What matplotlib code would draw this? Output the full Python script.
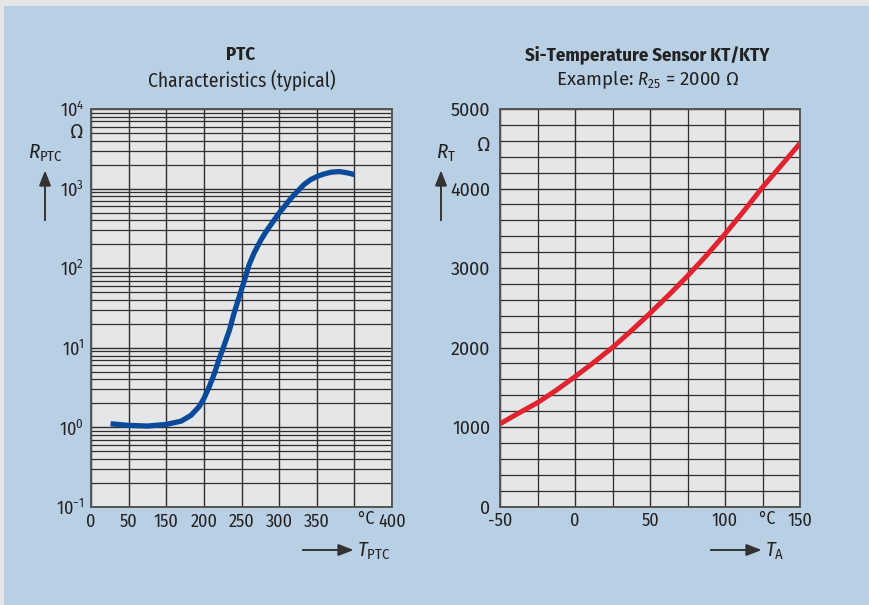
import matplotlib
matplotlib.use("Agg")
import matplotlib.pyplot as plt
from matplotlib.patches import Rectangle
from matplotlib.ticker import MultipleLocator, LogLocator, NullFormatter

# PTC characteristic (temperature in grid units of 50 °C per column, resistance in ohm)
ptc_temp = [26, 50, 75, 100, 120, 133, 144, 150, 157, 164, 170, 177, 184, 190,
            197, 204, 210, 217, 226, 232, 239, 250, 258, 266, 283, 292, 301, 310,
            319, 330, 341, 350]
ptc_res = [1.11, 1.06, 1.04, 1.09, 1.20, 1.42, 1.84, 2.30, 3.22, 4.75, 7.1, 10.8,
           16.7, 27, 44, 71, 110, 157, 228, 282, 352, 493, 611, 762, 1124, 1298,
           1429, 1530, 1607, 1637, 1575, 1501]
ptc_xticks = [0, 50, 100, 150, 200, 250, 300, 350, 400]
ptc_xlabels = ['0', '50', '150', '200', '250', '300', '350', '', '400']
ptc_yticks = [0.1, 1, 10, 100, 1000, 10000]
ptc_ylabels = [r'$10^{-1}$', r'$10^{0}$', r'$10^{1}$', r'$10^{2}$', r'$10^{3}$', r'$10^{4}$']

# Si temperature sensor KT/KTY, R25 = 2000 ohm
kty_temp = [-50, -37.5, -25, -12.5, 0, 12.5, 25, 37.5, 50, 62.5, 75, 87.5,
            100, 112.5, 125, 137.5, 150]
kty_res = [1040, 1175, 1306, 1462, 1633, 1812, 2000, 2210, 2430, 2660, 2899, 3155,
           3428, 3715, 4015, 4290, 4568]
kty_xticks = [-50, 0, 50, 100, 150]
kty_yticks = [0, 1000, 2000, 3000, 4000, 5000]

BG = '#b9cfe3'
PLOT_BG = '#e5e6e8'
GRID = '#2e2e2e'
TXT = '#222222'
COND = ['Fira Sans Condensed', 'DejaVu Sans']
REG = ['Fira Sans', 'DejaVu Sans']

plt.rcParams['mathtext.fontset'] = 'custom'
plt.rcParams['mathtext.rm'] = 'Fira Sans Condensed'
plt.rcParams['mathtext.it'] = 'Fira Sans Condensed:italic'
plt.rcParams['mathtext.bf'] = 'Fira Sans Condensed:bold'

W, H = 869, 605
fig = plt.figure(figsize=(W / 100, H / 100), dpi=100, facecolor='#e4e5e7')
fig.add_artist(Rectangle((4 / W, 0), 1, 1 - 6 / H, transform=fig.transFigure,
                         facecolor=BG, edgecolor='none', zorder=0))


def fx(x):
    return x / W


def fy(y):
    return 1 - y / H


def style_axes(ax):
    ax.set_facecolor(PLOT_BG)
    for s in ax.spines.values():
        s.set_color('#555555')
        s.set_linewidth(1.4)
    ax.tick_params(which='both', length=0, colors=TXT)
    ax.grid(True, which='major', color=GRID, linewidth=1.0)
    ax.grid(True, which='minor', color=GRID, linewidth=0.9)
    ax.set_axisbelow(True)


def arrow(x0, y0, x1, y1):
    fig.add_artist(plt.annotate('', xy=(fx(x1), fy(y1)), xytext=(fx(x0), fy(y0)),
                                xycoords='figure fraction', textcoords='figure fraction',
                                arrowprops=dict(arrowstyle='-|>,head_length=0.9,head_width=0.35',
                                                color='#333333', lw=1.2)))


# ---- left: PTC ----
ax1 = fig.add_axes([fx(91), fy(507), fx(301), 398 / H])
style_axes(ax1)
ax1.set_yscale('log')
ax1.set_xlim(0, 400)
ax1.set_ylim(0.1, 10000)
ax1.set_xticks(ptc_xticks)
ax1.set_xticklabels(ptc_xlabels, fontfamily=COND, fontsize=13)
ax1.set_yticks(ptc_yticks)
ax1.set_yticklabels(ptc_ylabels, fontfamily=REG, fontsize=13)
ax1.yaxis.set_minor_locator(LogLocator(base=10, subs=range(2, 10)))
ax1.yaxis.set_minor_formatter(NullFormatter())
ax1.tick_params(axis='y', pad=5)
ax1.tick_params(axis='x', pad=4)
ax1.plot(ptc_temp, ptc_res, color='#0a4a9b', linewidth=3.8, solid_capstyle='butt',
         solid_joinstyle='round', zorder=3)

fig.text(fx(241), fy(55), 'PTC', ha='center', va='center', fontsize=13.5,
         fontweight='bold', family=COND, color=TXT)
fig.text(fx(242), fy(80), 'Characteristics (typical)', ha='center', va='center',
         fontsize=14, family=COND, color=TXT)
fig.text(fx(77), fy(132), 'Ω', ha='center', va='center', fontsize=14, family=REG, color=TXT)
fig.text(fx(45), fy(153), r'$\mathit{R}_{\mathrm{PTC}}$', ha='center', va='center',
         fontsize=15, color=TXT)
arrow(45, 223, 45, 168)
fig.text(fx(366), fy(519), '°C', ha='center', va='center', fontsize=13, family=COND, color=TXT)
arrow(300, 550, 356, 550)
fig.text(fx(357), fy(551), r'$\mathit{T}_{\mathrm{PTC}}$', ha='left', va='center',
         fontsize=15, color=TXT)

# ---- right: KT/KTY ----
ax2 = fig.add_axes([fx(500), fy(506.5), fx(300), 397.5 / H])
style_axes(ax2)
ax2.set_xlim(-50, 150)
ax2.set_ylim(0, 5000)
ax2.set_xticks(kty_xticks)
ax2.set_xticklabels([str(v) for v in kty_xticks], fontfamily=COND, fontsize=13)
ax2.set_yticks(kty_yticks)
ax2.set_yticklabels([str(v) for v in kty_yticks], fontfamily=REG, fontsize=13)
ax2.xaxis.set_minor_locator(MultipleLocator(25))
ax2.yaxis.set_minor_locator(MultipleLocator(200))
ax2.tick_params(axis='y', pad=7)
ax2.tick_params(axis='x', pad=4)
ax2.plot(kty_temp, kty_res, color='#e0232e', linewidth=3.6, solid_capstyle='butt',
         solid_joinstyle='round', zorder=3)

fig.text(fx(647), fy(55), 'Si-Temperature Sensor KT/KTY', ha='center', va='center',
         fontsize=13.5, fontweight='bold', family=COND, color=TXT)
fig.text(fx(648), fy(80), r'Example: $\mathit{R}_{25}$ = 2000 Ω', ha='center', va='center',
         fontsize=13.5, family=REG, color=TXT)
fig.text(fx(484), fy(145), 'Ω', ha='center', va='center', fontsize=14, family=REG, color=TXT)
fig.text(fx(446), fy(153), r'$\mathit{R}_{\mathrm{T}}$', ha='center', va='center',
         fontsize=15, color=TXT)
arrow(441, 223, 441, 168)
fig.text(fx(767), fy(519), '°C', ha='center', va='center', fontsize=13, family=COND, color=TXT)
arrow(708, 550, 764, 550)
fig.text(fx(765), fy(551), r'$\mathit{T}_{\mathrm{A}}$', ha='left', va='center',
         fontsize=15, color=TXT)

fig.savefig('out.png', dpi=100, facecolor=fig.get_facecolor())
